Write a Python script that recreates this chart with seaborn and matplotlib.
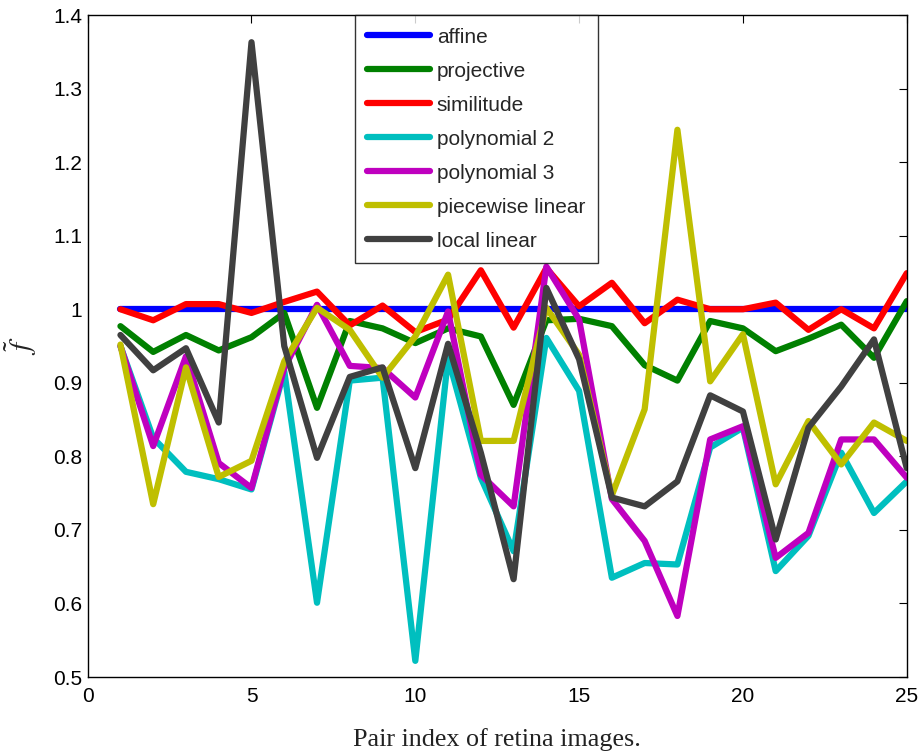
import numpy as np
import pandas as pd
import matplotlib
matplotlib.use("Agg")
import matplotlib.pyplot as plt
import seaborn as sns

pairs = list(range(1, 26))
affine = [1.0] * 25
projective = [0.977, 0.942, 0.965, 0.944, 0.962, 0.995, 0.866, 0.984, 0.974, 0.954,
              0.974, 0.963, 0.870, 0.985, 0.987, 0.977, 0.924, 0.903, 0.984, 0.974,
              0.943, 0.960, 0.979, 0.934, 1.011]
similitude = [1.0, 0.985, 1.007, 1.007, 0.995, 1.010, 1.024, 0.978, 1.005, 0.969,
              0.986, 1.053, 0.975, 1.056, 1.004, 1.036, 0.981, 1.013, 1.0, 1.0,
              1.009, 0.972, 1.0, 0.974, 1.049]
poly2 = [0.950, 0.825, 0.779, 0.769, 0.755, 0.916, 0.601, 0.903, 0.907, 0.522,
         0.934, 0.771, 0.671, 0.961, 0.889, 0.635, 0.655, 0.653, 0.812, 0.839,
         0.644, 0.692, 0.805, 0.723, 0.766]
poly3 = [0.950, 0.814, 0.936, 0.791, 0.757, 0.920, 1.006, 0.923, 0.920, 0.880,
         0.997, 0.775, 0.732, 1.058, 0.986, 0.742, 0.685, 0.583, 0.823, 0.841,
         0.662, 0.696, 0.823, 0.823, 0.771]
piecewise = [0.952, 0.735, 0.921, 0.772, 0.794, 0.929, 1.002, 0.972, 0.907, 0.963,
             1.047, 0.821, 0.821, 1.002, 0.938, 0.747, 0.864, 1.244, 0.902, 0.966,
             0.762, 0.848, 0.789, 0.846, 0.821]
local_linear = [0.965, 0.917, 0.947, 0.846, 1.363, 0.950, 0.798, 0.908, 0.921, 0.784,
                0.953, 0.805, 0.633, 1.029, 0.932, 0.744, 0.732, 0.766, 0.883, 0.861,
                0.687, 0.839, 0.895, 0.959, 0.784]

methods = ["affine", "projective", "similitude", "polynomial 2", "polynomial 3",
           "piecewise linear", "local linear"]
series = [affine, projective, similitude, poly2, poly3, piecewise, local_linear]
colors = ["#0000ff", "#008000", "#ff0000", "#00bfbf", "#bf00bf", "#bfbf00", "#404040"]

ytick_vals = [0.5, 0.6, 0.7, 0.8, 0.9, 1.0, 1.1, 1.2, 1.3, 1.4]
ytick_labels = ["0.5", "0.6", "0.7", "0.8", "0.9", "1", "1.1", "1.2", "1.3", "1.4"]
xtick_vals = [0, 5, 10, 15, 20, 25]

df = pd.DataFrame({
    "pair": pairs * len(methods),
    "f": sum(series, []),
    "method": sum([[m] * len(pairs) for m in methods], []),
})

sns.set_theme(style="white")
plt.rcParams["font.family"] = ["Liberation Sans", "DejaVu Sans"]
plt.rcParams["mathtext.fontset"] = "stix"

fig = plt.figure(figsize=(9.2, 7.51), dpi=100)
ax = fig.add_axes([0.0953, 0.0985, 0.8903, 0.8815])

sns.lineplot(data=df, x="pair", y="f", hue="method", hue_order=methods,
             palette=dict(zip(methods, colors)), linewidth=4.5, sort=False,
             estimator=None, ax=ax)

ax.set_xlim(0, 25)
ax.set_ylim(0.5, 1.4)
ax.set_xticks(xtick_vals)
ax.set_xticklabels([str(v) for v in xtick_vals])
ax.set_yticks(ytick_vals)
ax.set_yticklabels(ytick_labels)
ax.tick_params(direction="in", length=6, width=0.8, top=True, right=True,
               labelsize=15, colors="black")
ax.tick_params(axis="x", pad=7)
ax.tick_params(axis="y", pad=4)
for s in ax.spines.values():
    s.set_color("black")
    s.set_linewidth(1.0)

ax.set_xlabel("Pair index of retina images.", family=["Liberation Serif", "DejaVu Serif"],
              fontsize=18.8, labelpad=16, color="#222222")
ax.set_ylabel(r"$\tilde{f}$", fontsize=21, labelpad=10, color="#222222")

handles, labels = ax.get_legend_handles_labels()
leg = ax.legend(handles, labels, loc="upper center", bbox_to_anchor=(0.4744, 1.0),
                fontsize=15, frameon=True, fancybox=False, handlelength=3.0,
                labelspacing=0.72, borderpad=0.6, handletextpad=0.32,
                borderaxespad=0.0)
leg.get_frame().set_edgecolor("black")
leg.get_frame().set_linewidth(1.0)
for ln in leg.get_lines():
    ln.set_linewidth(4.5)

fig.savefig("out.png", dpi=100)
